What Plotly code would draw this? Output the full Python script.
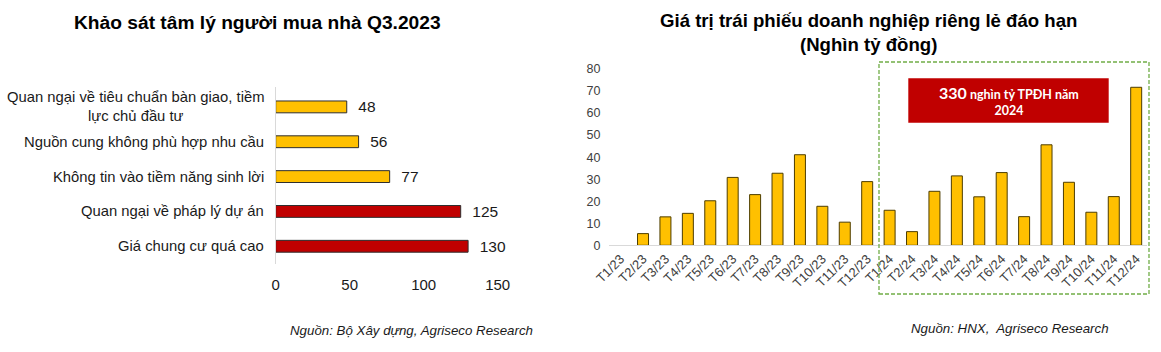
import plotly.graph_objects as go

W, H = 1161, 352

# ---------------- data ----------------
survey_categories = [
    "Quan ngại về tiêu chuẩn bàn giao, tiềm<br>lực chủ đầu tư",
    "Nguồn cung không phù hợp nhu cầu",
    "Không tin vào tiềm năng sinh lời",
    "Quan ngại về pháp lý dự án",
    "Giá chung cư quá cao",
]
survey_values = [48, 56, 77, 125, 130]
survey_ticks = [0, 50, 100, 150]

bond_months = [
    "T1/23", "T2/23", "T3/23", "T4/23", "T5/23", "T6/23", "T7/23", "T8/23",
    "T9/23", "T10/23", "T11/23", "T12/23",
    "T1/24", "T2/24", "T3/24", "T4/24", "T5/24", "T6/24", "T7/24", "T8/24",
    "T9/24", "T10/24", "T11/24", "T12/24",
]
bond_values = [
    0, 5.3, 12.9, 14.5, 20.2, 30.8, 23.0, 32.7, 41.1, 17.7, 10.5, 28.9,
    15.9, 6.2, 24.5, 31.5, 22.0, 33.0, 13.0, 45.6, 28.6, 15.0, 22.1, 71.7,
]

# ---------------- styles ----------------
FONT = "Liberation Sans"
YELLOW = "#FFC000"
RED = "#C00000"
survey_colors = [YELLOW, YELLOW, YELLOW, RED, RED]
bond_outline_widths = [0 if v == 0 else 1 for v in bond_values]


def px_x(p):
    return p / W


def px_y(p):
    return 1 - p / H


fig = go.Figure()

fig.add_trace(go.Bar(
    x=survey_values, y=survey_categories, orientation="h",
    xaxis="x", yaxis="y",
    marker=dict(color=survey_colors, line=dict(color="#2e2e2e", width=1)),
    width=0.34,
    texttemplate="\u00a0\u00a0%{x}", textposition="outside",
    textfont=dict(family=FONT, size=15.5, color="#1a1a1a"),
    constraintext="none", cliponaxis=False,
    showlegend=False, hoverinfo="x+y",
))

fig.add_trace(go.Bar(
    x=bond_months, y=bond_values,
    xaxis="x2", yaxis="y2",
    marker=dict(color=YELLOW, line=dict(color="#4d3d00", width=bond_outline_widths)),
    width=0.49,
    showlegend=False,
))

annotations = []
# category labels (centered multi-line, right-aligned block)
for c in survey_categories:
    annotations.append(dict(
        xref="paper", yref="y", x=px_x(266), y=c, xanchor="right", yanchor="middle",
        text=c, showarrow=False, align="center",
        font=dict(family=FONT, size=14.8, color="#1a1a1a"),
    ))

annotations += [
    dict(xref="paper", yref="paper", x=px_x(257), y=px_y(23), xanchor="center", yanchor="middle",
         text="<b>Khảo sát tâm lý người mua nhà Q3.2023</b>", showarrow=False,
         font=dict(family=FONT, size=19.2, color="#000000")),
    dict(xref="paper", yref="paper", x=px_x(868), y=px_y(32), xanchor="center", yanchor="middle",
         text="<b>Giá trị trái phiếu doanh nghiệp riêng lẻ đáo hạn<br>(Nghìn tỷ đồng)</b>",
         showarrow=False, align="center",
         font=dict(family=FONT, size=18.6, color="#000000")),
    dict(xref="paper", yref="paper", x=px_x(411.5), y=px_y(330), xanchor="center", yanchor="middle",
         text="<i>Nguồn: Bộ Xây dựng, Agriseco Research</i>", showarrow=False,
         font=dict(family=FONT, size=13.3, color="#1a1a1a")),
    dict(xref="paper", yref="paper", x=px_x(1009.5), y=px_y(328), xanchor="center", yanchor="middle",
         text="<i>Nguồn: HNX,  Agriseco Research</i>", showarrow=False,
         font=dict(family=FONT, size=13.3, color="#1a1a1a")),
    dict(xref="paper", yref="paper", x=px_x(1008.5), y=px_y(100.5), xanchor="center", yanchor="middle",
         text="<b><span style='font-size:16px'>330</span> nghìn tỷ TPĐH năm<br>2024</b>",
         showarrow=False, align="center",
         font=dict(family="Lato", size=12.5, color="#FFFFFF")),
]

shapes = [
    dict(type="rect", xref="paper", yref="paper",
         x0=px_x(879), x1=px_x(1149), y0=px_y(294), y1=px_y(62),
         line=dict(color="#70AD47", width=1.3, dash="4px,2px"), fillcolor="rgba(0,0,0,0)"),
    dict(type="rect", xref="paper", yref="paper",
         x0=px_x(908.3), x1=px_x(1108.7), y0=px_y(122.7), y1=px_y(78.3),
         line=dict(width=0), fillcolor=RED, layer="above"),
]

fig.update_layout(
    width=W, height=H,
    margin=dict(l=0, r=0, t=0, b=0),
    template="none",
    paper_bgcolor="white", plot_bgcolor="rgba(0,0,0,0)",
    font=dict(family=FONT, color="#1a1a1a"),
    showlegend=False,
    xaxis=dict(
        domain=[px_x(275.7), px_x(497.7)], anchor="y",
        range=[0, 150], tickvals=survey_ticks,
        showgrid=False, zeroline=False, showline=False, ticks="",
        tickfont=dict(family=FONT, size=15, color="#1a1a1a"),
        ticklabelstandoff=10,
    ),
    yaxis=dict(
        domain=[px_y(263.7), px_y(87.4)], anchor="x",
        categoryorder="array", categoryarray=survey_categories,
        autorange="reversed",
        showticklabels=False, showgrid=False, zeroline=False,
        showline=True, linecolor="#d9d9d9", linewidth=1, ticks="",
    ),
    xaxis2=dict(
        domain=[px_x(609.4), px_x(1147.4)], anchor="y2",
        tickangle=-45, showgrid=False, zeroline=False,
        showline=True, linecolor="#d9d9d9", linewidth=1, ticks="",
        tickfont=dict(family=FONT, size=13, color="#404040"),
    ),
    yaxis2=dict(
        domain=[px_y(245.3), px_y(69)], anchor="x2",
        range=[0, 80], dtick=10,
        showgrid=False, zeroline=False, showline=False, ticks="",
        tickfont=dict(family=FONT, size=12.5, color="#404040"),
        ticklabelstandoff=8,
    ),
    annotations=annotations,
    shapes=shapes,
)

fig.write_html("out.html")
